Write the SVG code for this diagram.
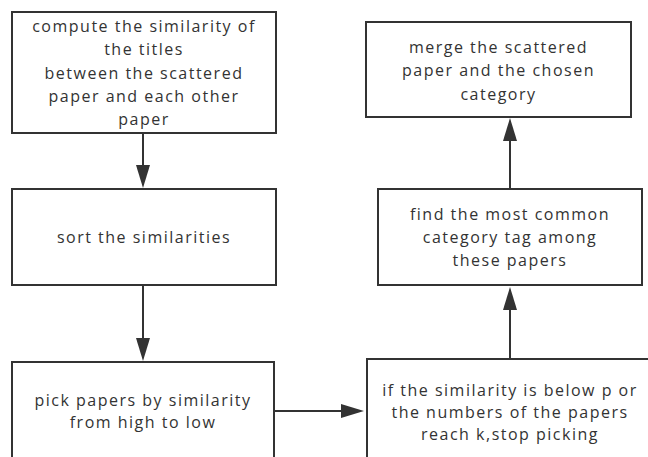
<svg xmlns="http://www.w3.org/2000/svg" width="648" height="457" viewBox="0 0 648 457">
<style>
.box{fill:#ffffff;stroke:#333333;stroke-width:2}
.lbl{font-family:"Open Sans","Noto Sans","Liberation Sans",sans-serif;font-size:16px;letter-spacing:1.5px;fill:#333333;text-anchor:middle}
.conn{stroke:#333333;stroke-width:2;fill:none;marker-end:url(#arr)}
</style>
<defs>
<marker id="arr" markerUnits="userSpaceOnUse" markerWidth="23" markerHeight="14" refX="0" refY="7" orient="auto">
<path d="M0,0 L23,7 L0,14 z" fill="#333333"/>
</marker>
</defs>
<rect width="648" height="457" fill="#ffffff"/>
<g id="connectors">
<line class="conn" x1="143" y1="133" x2="143" y2="165"/>
<line class="conn" x1="143" y1="285" x2="143" y2="338"/>
<line class="conn" x1="274" y1="411" x2="341" y2="411"/>
<line class="conn" x1="510" y1="359" x2="510" y2="310"/>
<line class="conn" x1="510" y1="189" x2="510" y2="141"/>
</g>
<g id="compute">
<rect class="box" x="12" y="12" width="264" height="121"/>
<text class="lbl"><tspan x="144" y="32">compute the similarity of</tspan><tspan x="144" y="55">the titles</tspan><tspan x="144" y="79">between the scattered</tspan><tspan x="144" y="102">paper and each other</tspan><tspan x="144" y="125">paper</tspan></text>
</g>
<g id="sort">
<rect class="box" x="12" y="189" width="264" height="96"/>
<text class="lbl" x="144" y="243">sort the similarities</text>
</g>
<g id="pick">
<rect class="box" x="12" y="362" width="262" height="110"/>
<text class="lbl"><tspan x="143" y="406">pick papers by similarity</tspan><tspan x="143" y="428">from high to low</tspan></text>
</g>
<g id="stop">
<rect class="box" x="367" y="359" width="290" height="110"/>
<text class="lbl"><tspan x="510" y="396">if the similarity is below p or</tspan><tspan x="510" y="418">the numbers of the papers</tspan><tspan x="510" y="440">reach k,stop picking</tspan></text>
</g>
<g id="find">
<rect class="box" x="378" y="189" width="264" height="96"/>
<text class="lbl"><tspan x="510" y="220">find the most common</tspan><tspan x="510" y="243">category tag among</tspan><tspan x="510" y="266">these papers</tspan></text>
</g>
<g id="merge">
<rect class="box" x="366" y="22" width="265" height="95"/>
<text class="lbl"><tspan x="498.5" y="53">merge the scattered</tspan><tspan x="498.5" y="76">paper and the chosen</tspan><tspan x="498.5" y="100">category</tspan></text>
</g>
</svg>
